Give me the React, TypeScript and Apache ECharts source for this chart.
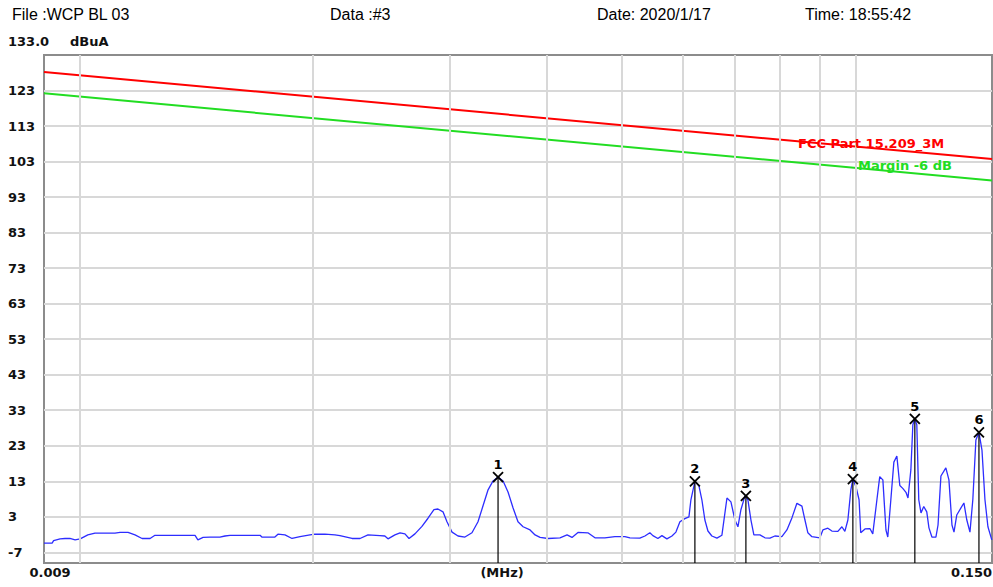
import React, { useEffect, useRef } from 'react';
import * as echarts from 'echarts';

// ---- header texts ----
const headerTexts = ['File :WCP BL 03', 'Data :#3', 'Date: 2020/1/17', 'Time: 18:55:42'];
const yTopLabel = '133.0';
const yUnit = 'dBuA';
const xUnit = '(MHz)';

// ---- axes ----
const yMin = -10;
const yMax = 133;
const yTickValues = [-7, 3, 13, 23, 33, 43, 53, 63, 73, 83, 93, 103, 113, 123];
const xMin = 0.009;
const xMax = 0.15;
const xGridValues = [0.01, 0.02, 0.03, 0.04, 0.05, 0.06, 0.07, 0.08, 0.09, 0.1];
const xLabelValues = [0.009, 0.15];
const xLabelTexts = ['0.009', '0.150'];

// ---- limit lines ----
const limitFreq = [0.009, 0.15];
const fccLimit = [128.2, 103.7];
const marginLimit = [122.2, 97.7];
const fccName = 'FCC Part 15.209_3M';
const marginName = 'Margin -6 dB';

// ---- measured trace ----
const freqMHz = [
  0.009, 0.00922, 0.00926, 0.00944, 0.00958, 0.00972, 0.00987, 0.01002, 0.01025, 0.01047,
  0.01079, 0.01111, 0.01128, 0.01155, 0.01179, 0.01204, 0.01233, 0.01251, 0.01289, 0.01348,
  0.01409, 0.01421, 0.01443, 0.01473, 0.01517, 0.0154, 0.01563, 0.01634, 0.01709, 0.01718,
  0.01786, 0.01802, 0.0184, 0.01879, 0.01924, 0.01982, 0.02011, 0.02072, 0.02134, 0.02166,
  0.02245, 0.02299, 0.02354, 0.02439, 0.02475, 0.02498, 0.0255, 0.02589, 0.02627, 0.02659,
  0.02706, 0.02763, 0.02813, 0.02863, 0.02897, 0.02941, 0.02976, 0.03021, 0.03075, 0.03139,
  0.03205, 0.03263, 0.03312, 0.03362, 0.03412, 0.03463, 0.03515, 0.03567, 0.03621, 0.03674,
  0.0373, 0.03808, 0.03865, 0.03923, 0.04017, 0.04162, 0.0425, 0.04313, 0.0439, 0.04521,
  0.04617, 0.04755, 0.04898, 0.05046, 0.05122, 0.05275, 0.05355, 0.05434, 0.05483, 0.05565,
  0.05632, 0.05716, 0.05802, 0.05871, 0.05941, 0.06029, 0.06102, 0.06138, 0.06211, 0.06286,
  0.06341, 0.06398, 0.06456, 0.06532, 0.06631, 0.06729, 0.06831, 0.06912, 0.06995, 0.07057,
  0.0712, 0.07206, 0.07269, 0.07335, 0.07399, 0.07533, 0.07646, 0.07761, 0.07875, 0.0804,
  0.08161, 0.08283, 0.08407, 0.08533, 0.0861, 0.08685, 0.0879, 0.09, 0.09081, 0.09216,
  0.09327, 0.09494, 0.09608, 0.09693, 0.0978, 0.09867, 0.09926, 0.1002, 0.1011, 0.1016,
  0.1029, 0.1044, 0.1053, 0.1066, 0.1075, 0.1085, 0.1095, 0.1101, 0.1111, 0.1121,
  0.1131, 0.1141, 0.1151, 0.1162, 0.1169, 0.1179, 0.1186, 0.1193, 0.12, 0.1207,
  0.1215, 0.1225, 0.1236, 0.1244, 0.1255, 0.127, 0.1278, 0.1289, 0.1308, 0.132,
  0.1332, 0.134, 0.1351, 0.1368, 0.138, 0.1392, 0.1405, 0.1417, 0.143, 0.1443,
  0.1456, 0.1469, 0.1482, 0.1499,
];
const levelDb = [
  -4.4, -4.4, -3.7, -3.2, -3.1, -3.1, -3.5, -3.2, -2.1, -1.6,
  -1.6, -1.6, -1.4, -1.4, -2.1, -3.1, -3.1, -2.2, -2.2, -2.2,
  -2.2, -3.5, -2.8, -2.7, -2.7, -2.4, -2.2, -2.2, -2.2, -2.7,
  -2.7, -1.9, -2.1, -3.1, -2.6, -2.1, -1.9, -1.9, -2.1, -2.3,
  -3.1, -3.1, -2.1, -2.3, -2.4, -3.2, -2.1, -1.5, -1.8, -3.1,
  -1.8, 0.3, 2.6, 5.0, 5.2, 4.4, 1.6, -1.3, -2.4, -2.7,
  -1.5, 1.6, 6.1, 10.6, 13.1, 14.2, 13.1, 10.0, 5.5, 1.6,
  0.2, -0.7, -2.1, -2.8, -3.1, -2.9, -2.1, -2.8, -1.4, -1.5,
  -2.9, -2.9, -2.6, -2.6, -2.9, -3.0, -2.4, -1.5, -2.3, -3.1,
  -2.3, -3.2, -2.4, -1.3, 1.6, 2.5, 3.0, 7.8, 13.0, 11.7,
  7.8, 2.1, -1.0, -2.4, -3.0, -2.2, 8.3, 7.2, 2.1, 0.2,
  5.0, 8.9, 7.8, 2.1, -2.1, -2.1, -2.9, -3.0, -2.4, -2.6,
  -0.7, 2.7, 6.8, 6.0, 2.1, -1.5, -2.6, -2.9, -0.7, -0.2,
  -1.0, -1.1, 0.2, -1.1, 2.1, 10.6, 13.6, 11.4, 7.8, -1.5,
  -0.4, -0.3, -1.8, 7.8, 14.3, 13.4, -0.7, -2.7, 7.8, 18.4,
  20.1, 11.8, 11.0, 9.9, 8.3, 16.2, 28.9, 30.6, 28.9, 7.8,
  4.1, 5.9, 4.4, -0.1, -2.7, -2.7, 0.7, 14.5, 16.8, 13.4,
  0.7, -1.3, 3.5, 5.5, 6.9, 2.1, -1.3, 7.8, 24.6, 26.8,
  21.8, 7.8, 0.2, -3.5,
];

// ---- markers ----
const markerLabel = ['1', '2', '3', '4', '5', '6'];
const markerFreq = [0.03463, 0.06211, 0.07226, 0.09926, 0.1193, 0.1443];
const markerLevel = [14.2, 13.0, 8.9, 13.6, 30.6, 26.8];

const AXIS_FONT = '"DejaVu Sans", Verdana, sans-serif';
const HEAD_FONT = '"Liberation Sans", Arial, sans-serif';

export default function App() {
  const ref = useRef<HTMLDivElement>(null);

  useEffect(() => {
    const chart = echarts.init(ref.current!, null, { renderer: 'svg' });

    const traceData = freqMHz.map((f, i) => [f, levelDb[i]]);
    const fccData = limitFreq.map((f, i) => [f, fccLimit[i]]);
    const marginData = limitFreq.map((f, i) => [f, marginLimit[i]]);
    const markerData = markerFreq.map((f, i) => [f, markerLevel[i], markerLabel[i]]);

    const option: any = {
      animation: false,
      backgroundColor: '#ffffff',
      grid: {
        left: 44,
        right: 1,
        top: 55,
        bottom: 24,
        show: true,
        borderColor: '#8c8c8c',
        borderWidth: 2,
        backgroundColor: '#ffffff',
      },
      xAxis: {
        type: 'log',
        logBase: 10,
        min: xMin,
        max: xMax,
        axisLine: { show: false },
        axisTick: { show: false },
        axisLabel: { show: false },
        splitLine: { show: false },
        minorSplitLine: { show: false },
      },
      yAxis: {
        type: 'value',
        min: yMin,
        max: yMax,
        axisLine: { show: false },
        axisTick: { show: false, customValues: yTickValues },
        axisLabel: {
          customValues: yTickValues,
          align: 'left',
          margin: 36,
          fontFamily: AXIS_FONT,
          fontWeight: 'bold',
          fontSize: 13,
          color: '#111111',
        },
        splitLine: { show: true, lineStyle: { color: '#d8d8d8', width: 2 } },
      },
      series: [
        {
          type: 'line',
          name: 'grid',
          data: [],
          silent: true,
          z: 1,
          markLine: {
            silent: true,
            symbol: 'none',
            label: { show: false },
            lineStyle: { color: '#d8d8d8', width: 2, type: 'solid' },
            data: xGridValues.map((v) => ({ xAxis: v })),
          },
        },
        {
          type: 'line',
          name: fccName,
          data: fccData,
          showSymbol: false,
          symbol: 'none',
          lineStyle: { color: '#ff0000', width: 2 },
          z: 3,
        },
        {
          type: 'line',
          name: marginName,
          data: marginData,
          showSymbol: false,
          symbol: 'none',
          lineStyle: { color: '#22dd22', width: 2 },
          z: 3,
        },
        {
          type: 'line',
          name: 'trace',
          data: traceData,
          showSymbol: false,
          symbol: 'none',
          lineStyle: { color: '#2d2dff', width: 1.3 },
          z: 4,
        },
        {
          type: 'custom',
          name: 'markers',
          data: markerData,
          z: 5,
          renderItem: (params: any, api: any) => {
            const f = api.value(0);
            const v = api.value(1);
            const top = api.coord([f, v]);
            const bottom = api.coord([f, yMin]);
            const s = 5;
            return {
              type: 'group',
              children: [
                {
                  type: 'line',
                  shape: { x1: top[0], y1: top[1], x2: bottom[0], y2: bottom[1] },
                  style: { stroke: '#000000', lineWidth: 1.2 },
                },
                {
                  type: 'line',
                  shape: { x1: top[0] - s, y1: top[1] - s, x2: top[0] + s, y2: top[1] + s },
                  style: { stroke: '#000000', lineWidth: 1.8 },
                },
                {
                  type: 'line',
                  shape: { x1: top[0] - s, y1: top[1] + s, x2: top[0] + s, y2: top[1] - s },
                  style: { stroke: '#000000', lineWidth: 1.8 },
                },
                {
                  type: 'text',
                  style: {
                    text: markerLabel[params.dataIndex],
                    x: top[0],
                    y: top[1] - 6,
                    textAlign: 'center',
                    textVerticalAlign: 'bottom',
                    font: `bold 13px ${AXIS_FONT}`,
                    fill: '#000000',
                  },
                },
              ],
            };
          },
        },
      ],
    };

    chart.setOption(option);

    const headerX = [12, 330, 597, 805];
    const graphics: any[] = headerTexts.map((t, i) => ({
      type: 'text',
      left: headerX[i],
      top: 6,
      style: { text: t, font: `16px ${HEAD_FONT}`, fill: '#000000' },
    }));
    graphics.push({
      type: 'text',
      left: 8,
      top: 35,
      style: { text: yTopLabel, font: `bold 13px ${AXIS_FONT}`, fill: '#111111' },
    });
    graphics.push({
      type: 'text',
      left: 70,
      top: 35,
      style: { text: yUnit, font: `bold 13px ${AXIS_FONT}`, fill: '#111111' },
    });
    xLabelValues.forEach((v, i) => {
      const px = chart.convertToPixel({ xAxisIndex: 0 }, v) as number;
      const last = i === xLabelValues.length - 1;
      graphics.push({
        type: 'text',
        x: last ? px : px + 6,
        y: 566,
        style: {
          text: xLabelTexts[i],
          textAlign: last ? 'right' : 'center',
          textVerticalAlign: 'top',
          font: `bold 13px ${AXIS_FONT}`,
          fill: '#111111',
        },
      });
    });
    graphics.push({
      type: 'text',
      x: 502,
      y: 566,
      style: {
        text: xUnit,
        textAlign: 'center',
        textVerticalAlign: 'top',
        font: `bold 13px ${AXIS_FONT}`,
        fill: '#111111',
      },
    });
    graphics.push({
      type: 'text',
      x: 798,
      y: 143,
      z: 10,
      style: {
        text: fccName,
        textAlign: 'left',
        textVerticalAlign: 'middle',
        font: `bold 13px ${AXIS_FONT}`,
        fill: '#ff0000',
      },
    });
    graphics.push({
      type: 'text',
      x: 858,
      y: 165,
      z: 10,
      style: {
        text: marginName,
        textAlign: 'left',
        textVerticalAlign: 'middle',
        font: `bold 13px ${AXIS_FONT}`,
        fill: '#22dd22',
      },
    });
    chart.setOption({ graphic: graphics });

    return () => chart.dispose();
  }, []);

  return (
    <div
      ref={ref}
      style={{ position: 'fixed', left: 0, top: 0, width: 993, height: 587, background: '#fff' }}
    />
  );
}
